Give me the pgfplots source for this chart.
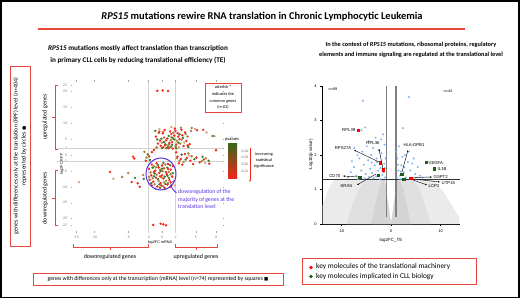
\documentclass[border=0pt]{standalone}
\usepackage{pgfplots}
\pgfplotsset{compat=1.18}
\usepackage{fontspec}
\setmainfont{Carlito}
\newfontfamily\arial{Liberation Sans}
\newfontfamily\sym{DejaVu Sans}
\usetikzlibrary{arrows.meta}
\definecolor{bred}{HTML}{E8453C}
\definecolor{pred}{HTML}{F2261A}
\definecolor{ptan}{HTML}{D99A78}
\definecolor{poli}{HTML}{9C7B32}
\definecolor{pgrn}{HTML}{3E7A22}
\definecolor{vblue}{HTML}{80B4F2}
\definecolor{vgrn}{HTML}{1F5C1A}
\definecolor{purp}{HTML}{5B2EE8}
\newcommand{\fs}[2]{\fontsize{#1}{#2}\selectfont}
\begin{document}
\begin{tikzpicture}
\path[use as bounding box] (0,0) rectangle (520bp,-299bp);
% ---------------- left scatter ----------------
\begin{axis}[at={(162bp,-155bp)}, anchor=origin, x=6.75bp, y=3.18bp,
  xmin=-13.3, xmax=9, ymin=-24, ymax=23,
  axis line style={draw=none}, tick align=outside, major tick length=1.5bp,
  tick style={gray!70, line width=0.3bp},
  ytick={-22,-20,-15,-10,-5,-2,0,2,5,10,15,20,22},
  xtick={-12.7,-10,-5,-2,0,2,5,8}, xticklabels={-15,-10,-5,-2,0,2,5,8},
  tick label style={font=\arial\fs{3.6}{4}, text=gray},
  /pgf/number format/assume math mode=true, clip=false]
\draw[gray!35, line width=0.7bp] (axis cs:-2,-24.5) -- (axis cs:-2,23);
\draw[gray!35, line width=0.7bp] (axis cs:2,-24.5) -- (axis cs:2,23);
\draw[gray!35, line width=0.7bp] (axis cs:-15.5,2) -- (axis cs:9,2);
\draw[gray!35, line width=0.7bp] (axis cs:-15.5,-2) -- (axis cs:9,-2);
\addplot[only marks, mark=*, mark size=1.0bp, color=ptan, mark options={fill=ptan!70!white}] coordinates {
(-12.3,-8.5) (-7.2,-7.5) (4.9,8.2) (6.6,7.1) (-0.8,2.2) (2.5,2.4) (7.8,5.9) (1.4,8.8) (-0.4,8.1) (3.3,3.9) (-1.0,-10.6) (1.9,-9.6) (4.0,-0.2) (6.4,-2.5)};
\addplot[only marks, mark=*, mark size=1.0bp, color=poli, mark options={fill=poli!80!white}] coordinates {
(0.0,3.9) (0.9,2.8) (1.4,5.6) (2.2,4.5) (0.3,5.5) (2.7,3.6) (-0.5,6.9) (1.7,7.0) (3.8,5.8) (0.6,2.1) (2.0,2.6) (-0.8,2.4) (4.3,7.6) (2.8,8.6) (1.3,4.7) (4.4,8.5)
(1.0,3.3) (2.9,4.8) (0.2,7.3) (3.5,6.6)
(2.6,-1.8) (3.9,0.5) (4.4,-0.4) (5.9,-1.9) (3.2,-2.2) (6.5,-1.0) (2.2,-1.0)
(-2.6,1.0) (-2.3,-0.8) (-5.9,-6.9) (-5.0,-5.7) (-2.8,-6.3)
(-1.2,-3.5) (0.5,-3.0) (-0.3,-4.6) (1.0,-5.3) (-1.7,-5.5) (0.1,-5.1) (-0.8,-6.2) (1.3,-6.1) (-0.1,-7.0) (-1.4,-7.3) (0.6,-8.1) (-0.5,-8.2) (0.9,-8.8) (-1.1,-9.2) (0.2,-9.9) (1.7,-8.4)
(-0.9,-3.9) (0.3,-8.6) (-1.9,-6.9) (1.4,-9.5)};
\addplot[only marks, mark=*, mark size=1.0bp, color=pgrn, mark options={fill=pgrn}] coordinates {
(0.5,3.4) (1.3,2.6) (1.0,6.0) (2.4,3.9) (-0.1,5.1) (1.8,4.9) (0.8,2.3) (2.1,2.1) (3.1,5.4) (-1.0,7.6) (0.3,4.1) (7.5,6.0) (1.5,3.2)
(0.0,2.2) (1.6,5.3) (2.6,6.5) (-0.7,4.9) (3.9,2.5)
(3.5,-1.5) (2.9,0.1) (6.0,-0.6) (4.8,-1.3) (6.9,-1.8)
(-2.1,0.2) (-1.8,-1.6) (-4.0,-7.2) (-2.7,-7.5)
(-0.6,-3.2) (0.2,-2.5) (-1.4,-4.0) (0.8,-4.0) (-0.2,-5.0) (1.6,-5.7) (-1.1,-5.8) (0.4,-6.8) (-0.6,-7.6) (1.0,-7.2) (-1.6,-8.9) (0.5,-9.1) (-0.3,-10.3)
(0.0,-4.3) (-1.2,-6.7) (0.8,-6.5) (-0.4,-9.2) (1.2,-3.2)};
\addplot[only marks, mark=*, mark size=1.0bp, color=pred, mark options={fill=pred}] coordinates {
(0.2,2.5) (0.5,3.1) (1.0,2.2) (1.5,4.0) (2.1,3.3) (0.8,5.2) (-0.3,4.5) (1.8,6.1) (2.6,5.0) (3.2,2.8) (0.1,6.8) (1.2,7.4) (2.9,7.9) (-0.6,3.6) (3.6,4.4) (1.6,2.0) (0.4,7.9) (2.3,6.9) (-0.9,5.8) (3.0,6.2) (1.1,3.8) (4.1,3.4) (1.9,8.3) (-0.2,2.9) (3.4,7.1) (5.2,7.8) (6.1,7.9)
(0.6,4.6) (2.4,5.8) (3.8,3.0) (-0.4,7.3) (1.4,6.6) (2.0,7.6)
(2.3,-0.5) (2.8,-1.2) (3.4,0.3) (4.2,-1.8) (2.5,-2.6) (5.1,-0.8) (3.0,-3.0) (6.2,-1.4) (4.6,-2.9) (8.0,1.5) (3.7,-0.9) (5.6,-2.3) (2.1,0.8) (7.0,-2.7)
(-4.3,-0.5) (-4.1,-1.1) (-1.5,0.9) (-1.9,-0.4) (-2.4,-1.8) (-1.2,1.6)
(-1.5,-3.0) (-0.8,-2.6) (0.0,-3.3) (0.9,-2.8) (-1.9,-4.4) (-1.0,-4.9) (0.3,-4.2) (1.3,-4.6) (-0.4,-5.6) (0.7,-6.0) (-1.6,-6.4) (-0.9,-7.1) (0.2,-7.4) (1.1,-7.9) (-1.3,-8.4) (-0.2,-8.8) (0.8,-9.3) (-0.7,-9.9) (0.4,-10.4) (1.5,-6.8) (-1.8,-7.8) (0.0,-6.4) (-0.5,-3.9) (1.6,-3.5) (-0.1,-9.6) (1.2,-10.0)
(-1.2,-5.3) (0.9,-4.4) (-0.3,-6.7) (1.3,-8.6) (-1.5,-9.6) (0.6,-5.4)
(-7.7,-5.3) (-4.5,-8.5) (-3.3,-10) (-3.6,-8.9)
(-0.7,20.2) (0.1,20.3) (0.9,20.1) (-1.3,-22) (-0.2,-21.6) (0.2,-21.8) (0.6,-22.1)};
\end{axis}
% ---------------- right volcano ----------------
\begin{axis}[at={(391bp,-224bp)}, anchor=origin, x=4.95bp, y=34.5bp,
  xmin=-13.9, xmax=13.9, ymin=0, ymax=4,
  axis x line=bottom, axis y line=left, axis line style={-, line width=0.8bp},
  xtick={-10,0,10}, ytick={0,1,2,3,4}, minor x tick num=9,
  tick align=outside, major tick length=2bp, minor tick length=1.3bp,
  tick style={black, line width=0.6bp},
  tick label style={font=\arial\fs{4}{4}},
  /pgf/number format/assume math mode=true, clip=false]
\addplot[fill=black!8, draw=none] coordinates {(0,0) (-13.8,0) (-13.8,0.55) (-12.5,1.05) (-11.5,1.28) (-1.3,1.3) (-0.5,0.5)} -- cycle;
\addplot[fill=black!8, draw=none] coordinates {(0,0) (13.8,0) (13.8,0.2) (12,0.6) (10.5,0.95) (8.5,1.28) (1.3,1.3) (0.5,0.5)} -- cycle;
\addplot[fill=black!12, draw=none] coordinates {(0,0) (-9,0) (-8,0.5) (-6.5,1.0) (-5,1.28) (-1.3,1.3) (-0.5,0.5)} -- cycle;
\addplot[fill=black!12, draw=none] coordinates {(0,0) (8,0) (7,0.5) (5.8,1.0) (4.5,1.28) (1.3,1.3) (0.5,0.5)} -- cycle;
\addplot[fill=black!17, draw=none] coordinates {(0,0) (-4,0) (-3.3,0.5) (-2.5,1.0) (-1.8,1.28) (-1.3,1.3) (-0.5,0.5)} -- cycle;
\addplot[fill=black!17, draw=none] coordinates {(0,0) (4,0) (3.3,0.5) (2.5,1.0) (1.8,1.28) (1.3,1.3) (0.5,0.5)} -- cycle;
\draw[gray, line width=1.1bp] (axis cs:-1,0.2) -- (axis cs:-1,4);
\draw[gray, line width=1.1bp] (axis cs:1,0.2) -- (axis cs:1,4);
\draw[black!80, line width=0.6bp] (axis cs:-13.9,1.3) -- (axis cs:13.9,1.3);
\addplot[only marks, mark=*, mark size=0.8bp, color=vblue] coordinates {
(-1.2,1.35) (-1.5,1.5) (-1.8,1.42) (-2.1,1.62) (-1.4,1.75) (-2.6,1.55) (-3.0,1.38) (-3.3,1.7) (-2.9,1.9) (-3.8,1.48) (-4.2,1.6) (-4.6,1.85) (-5.1,1.45) (-5.5,1.72) (-6.0,1.55) (-6.4,1.9) (-7.0,1.4) (-7.5,1.65) (-8.1,1.5) (-8.7,1.35) (-1.9,2.05) (-2.4,2.15) (-3.6,2.2) (-4.0,2.0) (-4.9,2.25) (-5.8,2.1) (-6.8,2.0) (-7.4,2.2) (-1.1,1.9) (-1.3,2.3) (-2.2,1.3) (-3.5,1.33) (-4.4,1.36) (-5.3,1.32) (-2.0,2.45) (-3.1,2.5) (-1.6,2.6) (-4.5,2.4) (-6.0,2.72) (-5.2,2.8) (-5.7,3.57) (-1.7,1.55) (-2.8,1.8) (-3.9,1.78) (-6.6,1.3) (-7.9,1.82) (-1.25,1.62) (-2.5,1.38)
(1.2,1.35) (1.5,1.55) (1.8,1.4) (2.1,1.7) (1.3,1.9) (2.6,1.5) (3.0,1.35) (3.4,1.8) (2.8,2.0) (3.9,1.55) (4.3,1.75) (4.9,1.45) (5.4,1.65) (5.9,1.4) (1.1,2.1) (1.6,2.25) (2.3,1.95) (3.6,2.1) (4.6,1.9) (2.4,2.78) (3.6,3.68) (1.9,1.3) (2.0,1.52) (1.4,1.72) (6.4,1.35) (5.0,1.3) (2.7,1.65)};
\addplot[only marks, mark=square*, mark size=1.3bp, color=red] coordinates {(-6.6,2.72) (-2.2,1.77) (-1.6,1.57) (4.0,1.33)};
\addplot[only marks, mark=square*, mark size=1.2bp, color=vgrn] coordinates {(-6.3,1.36) (-2.6,1.42) (2.2,1.45) (2.6,1.30) (7.1,1.8) (8.7,1.6)};
\end{axis}
% ---------------- annotations ----------------
\begin{scope}[x=1bp,y=-1bp]
\draw[line width=1.6bp] (1,1) rectangle (519,297.5);
\node[font=\fs{10.5}{12}\bfseries] at (262,17) {\textit{RPS15} mutations rewire RNA translation in Chronic Lymphocytic Leukemia};
\draw[bred, line width=1.2bp] (38,29) -- (465,29);
\node[font=\fs{7.2}{12.6}\bfseries, align=center] at (138,54.5) {\textit{RPS15} mutations mostly affect translation than transcription\\in primary CLL cells by reducing translational efficiency (TE)};
\node[font=\fs{6.3}{10}\bfseries, align=center] at (411,50) {In the context of \textit{RPS15} mutations, ribosomal proteins, regulatory\\elements and immune signaling are regulated at the translational level};
% left side boxes and brackets
\draw[bred, line width=0.9bp] (10,66) rectangle (30,246);
\node[rotate=90, font=\fs{6}{8}, align=center] at (20,156) {genes with differences only at the translation (RPF) level (n=404)\\represented by circles {\sym\fs{5}{8}●}};
\draw[bred, line width=0.9bp] (58,85) -- (55,85) -- (55,149) -- (58,149) (55,117) -- (52,117);
\draw[bred, line width=0.9bp] (58,170) -- (55,170) -- (55,225) -- (58,225) (55,198) -- (52,198);
\node[rotate=90, font=\fs{6}{8}] at (45,117) {upregulated genes};
\node[rotate=90, font=\fs{6}{8}] at (45,198) {downregulated genes};
\draw[bred, line width=0.9bp] (73,244) -- (73,247) -- (148,247) -- (148,244) (110,247) -- (110,250);
\draw[bred, line width=0.9bp] (175,244) -- (175,247) -- (217,247) -- (217,244) (196,247) -- (196,250);
\node[font=\fs{6}{8}] at (110,257) {downregulated genes};
\node[font=\fs{6}{8}] at (196,257) {upregulated genes};
\draw[bred, line width=0.9bp] (33,273) rectangle (283,285);
\node[font=\fs{5.8}{7}] at (158,279) {genes with differences only at the transcription (mRNA) level (n=74) represented by squares {\sym\fs{4.5}{7}■}};
\node[font=\arial\fs{3.8}{4}] at (160,243) {log2FC mRNA};
\node[rotate=90, font=\arial\fs{3.8}{4}] at (62,164) {log2FC RPF};
% asterisk box
\draw[bred, line width=0.9bp] (205,83) rectangle (241,112);
\node[font=\fs{4.3}{6.8}, align=center] at (223,97.5) {asterisk \textbf{*}\\indicates the\\common genes\\(n=53)};
% colour bar
\shade[top color=pgrn!85!black, middle color=poli, bottom color=pred] (228,143) rectangle (237,178);
\node[font=\fs{4.5}{5}] at (232,139) {pvalues};
\foreach \v/\yy in {0.04/151,0.03/157.7,0.02/164.4,0.01/171} {\node[font=\arial\fs{3.4}{4}, text=gray!80!black] at (245,\yy) {\v};}
\draw[-{Latex[length=2bp,width=1.8bp]}, pred, line width=0.6bp] (250,148) -- (250,182);
\node[font=\fs{4.3}{6}, align=center] at (264,160) {increasing\\statistical\\significance};
% ellipse annotation
\draw[purp, line width=1bp] (161,174) ellipse [x radius=15, y radius=16];
\draw[purp, line width=0.8bp, -{Latex[length=2bp]}] (171,186) to[bend right=15] (177,193);
\node[anchor=north west, inner sep=0, font=\fs{5.8}{7.6}, text=purp, align=left] at (178,189.5) {downregulation of the\\majority of genes at the\\translation level};
% volcano texts
\node[font=\arial\fs{4.5}{5}] at (391,240) {log2FC\_TE};
\node[rotate=90, font=\arial\fs{4.5}{5}] at (311,155) {-Log10(p value)};
\node[font=\arial\fs{3.8}{4}] at (333,89) {n=89};
\node[font=\arial\fs{3.8}{4}] at (448,91) {n=44};
\begin{scope}[font=\arial\fs{4.3}{5}]
\node[anchor=east, inner sep=0.5] at (356,130) {RPL39};
\node[anchor=east, inner sep=0.5] at (352,148) {RPS27A};
\node[inner sep=0.5] at (373,143) {RPL36};
\node[anchor=east, inner sep=0.5] at (341,176) {CD70};
\node[anchor=east, inner sep=0.5] at (353,186) {KRAS};
\node[inner sep=0.5] at (414,145) {HLA-DPB1};
\node[anchor=west, inner sep=0.5] at (428,163) {VEGFA};
\node[anchor=west, inner sep=0.5] at (437,169) {IL1B};
\node[anchor=west, inner sep=0.5] at (433,177) {GSPT2};
\node[anchor=west, inner sep=0.5] at (441,183) {UTP15};
\node[anchor=west, inner sep=0.5] at (428,186) {LCP2};
\end{scope}
\begin{scope}[line width=0.4bp, -{Latex[length=1.8bp,width=1.6bp]}]
\draw (379,162) -- (354,150);
\draw (383,169) -- (379,149);
\draw (358,177) -- (343,176);
\draw (376,174) -- (357,185);
\draw (402,172) -- (408,150);
\draw (413,177.5) -- (432,177);
\draw (413,179) -- (440,182);
\draw (413,180) -- (427,185);
\end{scope}
% legend box
\draw[bred, line width=0.9bp] (302,258) rectangle (476,284);
\fill[red] (311,267.5) circle (1.8);
\fill[vgrn] (311,276.5) circle (1.8);
\node[anchor=west, inner sep=0, font=\fs{7.4}{8}] at (316,267) {key molecules of the translational machinery};
\node[anchor=west, inner sep=0, font=\fs{7.4}{8}] at (316,277) {key molecules implicated in CLL biology};
\end{scope}
\end{tikzpicture}
\end{document}
